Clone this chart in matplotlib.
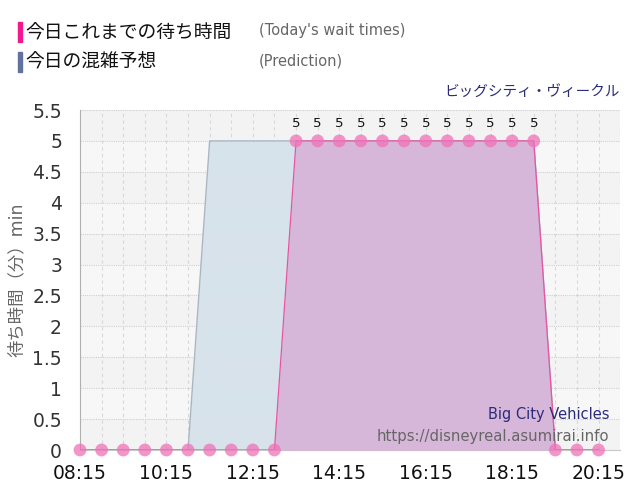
import matplotlib
matplotlib.use('Agg')
import matplotlib.pyplot as plt
import numpy as np

plt.rcParams['font.family'] = ['DejaVu Sans', 'Noto Sans CJK JP']

# times every 30 min from 08:15 to 20:15
times = ['08:15', '08:45', '09:15', '09:45', '10:15', '10:45', '11:15', '11:45',
         '12:15', '12:45', '13:15', '13:45', '14:15', '14:45', '15:15', '15:45',
         '16:15', '16:45', '17:15', '17:45', '18:15', '18:45', '19:15', '19:45', '20:15']
actual = [0, 0, 0, 0, 0, 0, 0, 0, 0, 0,
          5, 5, 5, 5, 5, 5, 5, 5, 5, 5, 5, 5,
          0, 0, 0]
prediction = [0, 0, 0, 0, 0, 0,
              5, 5, 5, 5, 5, 5, 5, 5, 5, 5, 5, 5, 5, 5, 5, 5,
              0, 0, 0]
tick_labels = ['08:15', '10:15', '12:15', '14:15', '16:15', '18:15', '20:15']


def to_min(s):
    h, m = s.split(':')
    return int(h) * 60 + int(m)


x = np.array([to_min(t) for t in times])
actual = np.array(actual)
prediction = np.array(prediction)

fig = plt.figure(figsize=(6.4, 5), dpi=100)
ax = fig.add_axes([0.125, 0.1, 0.844, 0.68])

x0, x1 = x[0], x[-1] + 30
ax.set_xlim(x0, x1)
ax.set_ylim(0, 5.5)

# alternating background bands
for i in range(11):
    c = '#f3f3f3' if i % 2 == 0 else '#f7f7f7'
    ax.axhspan(i * 0.5, (i + 1) * 0.5, color=c, zorder=0, lw=0)

for yv in np.arange(0.5, 5.51, 0.5):
    ax.axhline(yv, color='#d0d0d0', lw=0.8, ls=(0, (1, 1)), zorder=1)
for xv in x[1:]:
    ax.axvline(xv, color='#d8d8d8', lw=0.8, ls=(0, (3, 3)), zorder=1)
ax.axvline(x1, color='#d8d8d8', lw=0.8, ls=(0, (3, 3)), zorder=1)

# prediction area
ax.fill_between(x, prediction, color='#d6e2ea', alpha=0.95, zorder=2, lw=0)
ax.plot(x, prediction, color='#aab6c2', lw=1, zorder=2)

# actual wait times
ax.fill_between(x, actual, color='#d8a9d4', alpha=0.75, zorder=3, lw=0)
ax.plot(x, actual, color='#e6559f', lw=0.9, zorder=4)
ax.scatter(x, actual, s=85, color='#f072b8', alpha=0.75, edgecolors='none',
           zorder=5, clip_on=False)
for xi, yi in zip(x, actual):
    if yi > 0:
        ax.text(xi, yi + 0.18, str(yi), ha='center', va='bottom', fontsize=9.5,
                color='#111111', zorder=6)

ax.set_xticks([to_min(t) for t in tick_labels])
ax.set_xticklabels(tick_labels, fontsize=13.5, color='#111111')
yt = np.arange(0, 5.51, 0.5)
ax.set_yticks(yt)
ax.set_yticklabels(['%g' % v for v in yt], fontsize=13.5, color='#333333')
ax.tick_params(axis='both', length=0)
ax.tick_params(axis='x', pad=10)
ax.tick_params(axis='y', pad=13)

for s in ['top', 'right']:
    ax.spines[s].set_visible(False)
ax.spines['left'].set_color('#b0b0b0')
ax.spines['bottom'].set_color('#c8c8c8')

ax.set_ylabel('待ち時間（分）min', fontsize=12.5, color='#666666')
ax.yaxis.set_label_coords(-0.1, 0.5)

# header legend
fig.patches.append(plt.Rectangle((0.028, 0.916), 0.007, 0.04, color='#f0198f',
                                 transform=fig.transFigure, figure=fig))
fig.patches.append(plt.Rectangle((0.028, 0.856), 0.007, 0.04, color='#6272a0',
                                 transform=fig.transFigure, figure=fig))
fig.text(0.04, 0.935, '今日これまでの待ち時間', fontsize=13.5, color='#111111', va='center')
fig.text(0.405, 0.938, "(Today's wait times)", fontsize=10.5, color='#666666', va='center')
fig.text(0.04, 0.876, '今日の混雑予想', fontsize=13.5, color='#111111', va='center')
fig.text(0.405, 0.879, '(Prediction)', fontsize=10.5, color='#666666', va='center')

fig.text(0.969, 0.815, 'ビッグシティ・ヴィークル', fontsize=10.5, color='#2b2b7a',
         ha='right', va='center')
ax.text(0.98, 0.103, 'Big City Vehicles', transform=ax.transAxes, fontsize=10.5,
        color='#2b2b7a', ha='right', va='center', zorder=7)
ax.text(0.98, 0.041, 'https://disneyreal.asumirai.info', transform=ax.transAxes,
        fontsize=10.7, color='#666666', ha='right', va='center', zorder=7)

fig.savefig('out.png', dpi=100)
